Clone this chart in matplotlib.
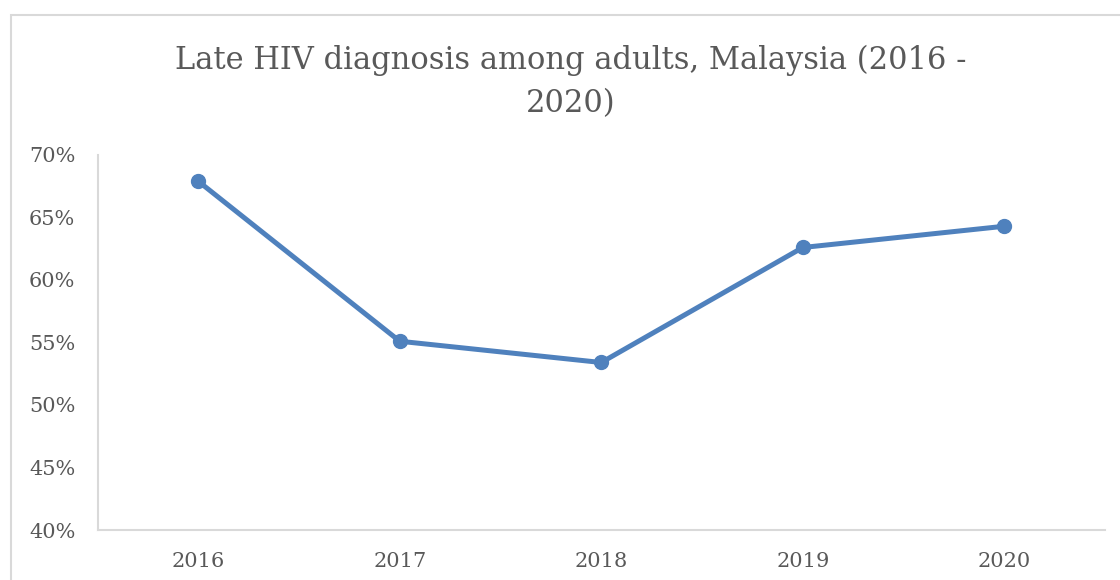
import matplotlib
matplotlib.use("Agg")
import matplotlib.pyplot as plt
from matplotlib.patches import Rectangle

years = ["2016", "2017", "2018", "2019", "2020"]
late_pct = [67.9, 55.1, 53.4, 62.6, 64.3]
yticks = [40, 45, 50, 55, 60, 65, 70]
title = "Late HIV diagnosis among adults, Malaysia (2016 -\n2020)"

W, H = 1120, 580
fig = plt.figure(figsize=(W / 100, H / 100), dpi=100)
fig.patch.set_facecolor("white")
serif = ["DejaVu Serif"]
text_col = "#595959"
grid_col = "#d9d9d9"

# outer chart border (cropped at right and bottom)
fig.add_artist(Rectangle((11 / W, -0.1), 1.2, (H - 15) / H + 0.1,
                         transform=fig.transFigure, fill=False,
                         edgecolor=grid_col, lw=1.5))

ax = fig.add_axes([97.5 / W, 50 / H, (1105 - 97.5) / W, (530 - 155) / H])
x = list(range(len(years)))
ax.plot(x, late_pct, color="#4F81BD", lw=3.6, marker="o", markersize=10,
        solid_capstyle="round")
ax.set_xlim(-0.5, len(years) - 0.5)
ax.set_ylim(40, 70)
ax.set_xticks(x)
ax.set_xticklabels(years)
ax.set_yticks(yticks)
ax.set_yticklabels([f"{v}%" for v in yticks])
for s in ["top", "right"]:
    ax.spines[s].set_visible(False)
for s in ["left", "bottom"]:
    ax.spines[s].set_color(grid_col)
    ax.spines[s].set_linewidth(1.5)
ax.tick_params(axis="both", length=0, colors=text_col, labelsize=15)
ax.tick_params(axis="y", pad=16)
ax.tick_params(axis="x", pad=16)
for lab in ax.get_xticklabels() + ax.get_yticklabels():
    lab.set_family(serif)

fig.text(571 / W, 1 - 82 / H, title, ha="center", va="center",
         fontsize=22, color=text_col, family=serif, linespacing=1.5)

fig.savefig("out.png", dpi=100, facecolor="white")
